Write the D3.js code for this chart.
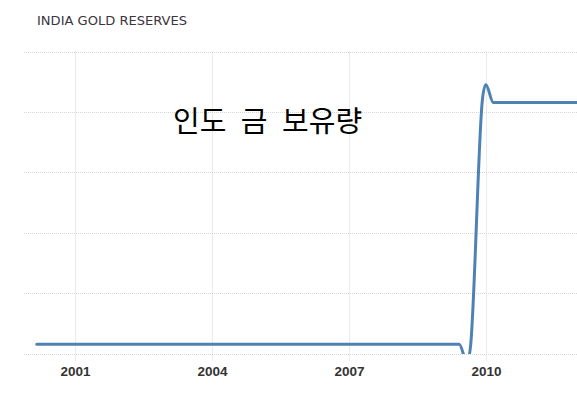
<!DOCTYPE html>
<html><head><meta charset="utf-8">
<script src="https://cdn.jsdelivr.net/npm/d3@7"></script>
<style>html,body{margin:0;padding:0;background:#fff;}svg{display:block;}</style>
</head><body>
<svg id="c" width="577" height="393"></svg>
<script>
const title = "INDIA GOLD RESERVES";
const overlay = "인도 금 보유량";
const dates = ["2000-03-01","2000-06-01","2000-09-01","2000-12-01",
"2001-03-01","2001-06-01","2001-09-01","2001-12-01",
"2002-03-01","2002-06-01","2002-09-01","2002-12-01",
"2003-03-01","2003-06-01","2003-09-01","2003-12-01",
"2004-03-01","2004-06-01","2004-09-01","2004-12-01",
"2005-03-01","2005-06-01","2005-09-01","2005-12-01",
"2006-03-01","2006-06-01","2006-09-01","2006-12-01",
"2007-03-01","2007-06-01","2007-09-01","2007-12-01",
"2008-03-01","2008-06-01","2008-09-01","2008-12-01",
"2009-03-01","2009-06-01","2009-09-01","2009-12-01",
"2010-03-01","2010-06-01","2010-09-01","2010-12-01",
"2011-03-01","2011-06-01","2011-09-01","2011-12-01",
"2012-03-01"];
const reserves = [357.75,357.75,357.75,357.75,
357.75,357.75,357.75,357.75,
357.75,357.75,357.75,357.75,
357.75,357.75,357.75,357.75,
357.75,357.75,357.75,357.75,
357.75,357.75,357.75,357.75,
357.75,357.75,357.75,357.75,
357.75,357.75,357.75,357.75,
357.75,357.75,357.75,357.75,
357.75,357.75,357.75,557.75,
557.75,557.75,557.75,557.75,
557.75,557.75,557.75,557.75,
557.75];
const tickYears = [2001, 2004, 2007, 2010];
const yTicks = [350, 400, 450, 500, 550, 600];

const svg = d3.select("#c");
const parse = d3.utcParse("%Y-%m-%d");
const data = dates.map((d,i)=>({date: parse(d), v: reserves[i]}));

const x = d3.scaleUtc().domain([Date.UTC(2001,0,1), Date.UTC(2010,0,1)]).range([75, 486]);
const y = d3.scaleLinear().domain([350, 600]).range([353.5, 51.5]);
const left = 24, right = 577;

// horizontal grid
svg.append("g").selectAll("line").data(yTicks).join("line")
  .attr("x1", left).attr("x2", right)
  .attr("y1", d=>Math.round(y(d))+0.5).attr("y2", d=>Math.round(y(d))+0.5)
  .attr("stroke", "#d6d6d6").attr("stroke-width",1).attr("stroke-dasharray","1,1");

// vertical grid + x axis
const xAxis = d3.axisBottom(x)
  .tickValues(tickYears.map(yr=>new Date(Date.UTC(yr,0,1))))
  .tickFormat(d3.utcFormat("%Y"))
  .tickSize(y(350) - y(600) + 7).tickPadding(6);
const gx = svg.append("g").attr("transform", `translate(0,${y(600)})`).call(xAxis);
gx.select(".domain").remove();
gx.selectAll(".tick line").attr("stroke","#d6d6d6").attr("stroke-dasharray","1,1");
gx.selectAll(".tick text").attr("fill","#333").attr("font-family","'Liberation Sans', Arial, sans-serif")
  .attr("font-size","13.5px").attr("font-weight","bold");

svg.append("clipPath").attr("id","clip").append("rect")
  .attr("x", left).attr("y", 30).attr("width", right-left).attr("height", 354-30);

const line = d3.line().x(d=>x(d.date)).y(d=>y(d.v)).curve(d3.curveCardinal.tension(0));
svg.append("path").datum(data).attr("clip-path","url(#clip)")
  .attr("d", line).attr("fill","none").attr("stroke","#4f82b4").attr("stroke-width",3)
  .attr("stroke-linecap","round").attr("stroke-linejoin","round");

svg.append("text").attr("x", 37).attr("y", 25).text(title)
  .attr("font-family","'DejaVu Sans Condensed','DejaVu Sans',sans-serif").attr("font-size","13px")
  .attr("textLength", 150).attr("lengthAdjust","spacingAndGlyphs")
  .attr("fill","#3a3440");

svg.append("text").attr("x", 173).attr("y", 132).text(overlay)
  .attr("font-family","'Noto Sans CJK KR',sans-serif").attr("font-size","29px")
  .attr("word-spacing","8px").attr("fill","#000");
</script>
</body></html>
